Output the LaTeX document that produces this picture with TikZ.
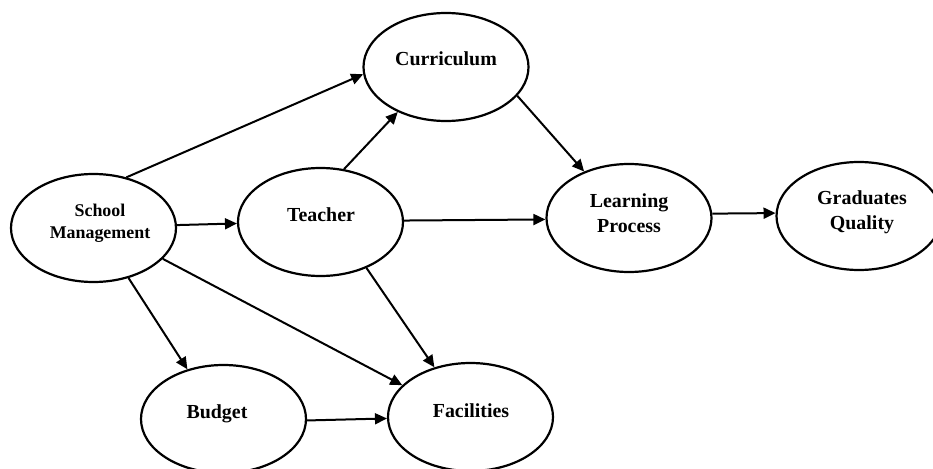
\documentclass[tikz,border=0pt]{standalone}
\usepackage{fontspec}
\setmainfont{Liberation Serif}
\usetikzlibrary{shapes.geometric,arrows.meta}
\begin{document}
\begin{tikzpicture}[x=1pt,y=-1pt,
  oval/.style={ellipse,draw,line width=2.2pt,inner sep=0pt,minimum width=165pt,minimum height=108pt},
  lbl/.style={font=\bfseries\fontsize{19.9}{24.5}\selectfont,align=center,inner sep=0pt,anchor=base},
  conn/.style={line width=2pt,-{Triangle[length=12pt,width=11pt]}}]
\useasboundingbox (0,0) rectangle (933,468);
\node[oval] (sm) at (93.5,228) {};
\node[oval] (te) at (320.5,222) {};
\node[oval] (cu) at (446,67) {};
\node[oval] (lp) at (629,218) {};
\node[oval] (gq) at (859,216) {};
\node[oval] (bu) at (223.5,419) {};
\node[oval] (fa) at (470.5,417) {};
\node[lbl,font=\bfseries\fontsize{17.9}{22}\selectfont] (smt) at (100,238) {School\\Management};
\node[lbl] (tet) at (321,221) {Teacher};
\node[lbl] (cut) at (446,66) {Curriculum};
\node[lbl] (lpt) at (629,232) {Learning\\Process};
\node[lbl] (gqt) at (862,229) {Graduates\\Quality};
\node[lbl] (but) at (217,418) {Budget};
\node[lbl] (fat) at (471,417) {Facilities};
\draw[conn] (sm.57) -- (cu.185);
\draw[conn] (sm.2) -- (te.181);
\draw[conn] (sm.-55) -- (bu.126);
\draw[conn] (sm.-24) -- (fa.155);
\draw[conn] (te.66) -- (cu.223);
\draw[conn] (te.1) -- (lp.181);
\draw[conn] (te.-45) -- (fa.126);
\draw[conn] (cu.-22) -- (lp.134);
\draw[conn] (lp.3) -- (gq.178);
\draw[conn] (bu.-1.5) -- (fa.181.5);
\end{tikzpicture}
\end{document}
